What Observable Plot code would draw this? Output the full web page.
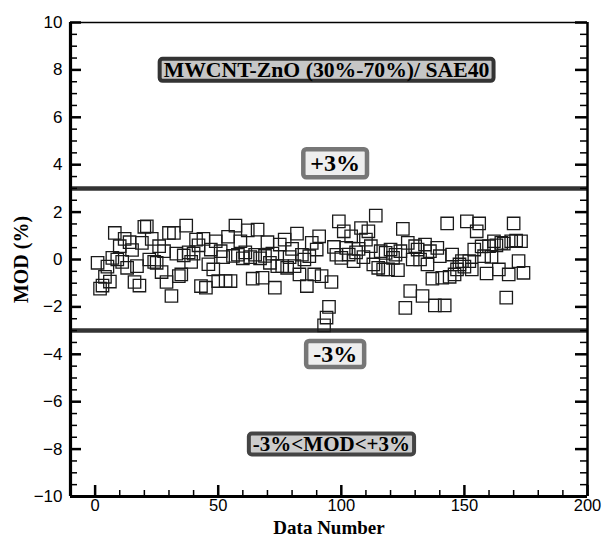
<!DOCTYPE html>
<html><head><meta charset="utf-8">
<script src="https://cdn.jsdelivr.net/npm/d3@7"></script>
<script src="https://cdn.jsdelivr.net/npm/@observablehq/plot@0.6"></script>
<style>
body{margin:0;background:#fff}
</style>
</head><body><div id="chart"></div>
<script>
const dataNumber = [1,2,3,4,5,6,7,8,9,10,11,12,13,14,15,16,17,18,19,20,21,22,23,24,25,26,27,28,29,30,
31,32,33,34,35,36,37,38,39,40,41,42,43,44,45,46,47,48,49,50,51,52,53,54,55,56,57,58,59,60,
61,62,63,64,65,66,67,68,69,70,71,72,73,74,75,76,77,78,79,80,81,82,83,84,85,86,87,88,89,90,
91,92,93,94,95,96,97,98,99,100,101,102,103,104,105,106,107,108,109,110,111,112,113,114,115,116,117,118,119,120,
121,122,123,124,125,126,127,128,129,130,131,132,133,134,135,136,137,138,139,140,141,142,143,144,145,146,147,148,149,150,
151,152,153,154,155,156,157,158,159,160,161,162,163,164,165,166,167,168,169,170,171,172,173,174];
const modValues = [-0.14,-1.23,-1.1,-0.73,-0.3,-0.93,0.07,1.12,0,0.56,-0.1,0.87,-0.35,0.73,0.4,-0.95,-0.28,-1.1,0.7,1.38,
1.4,0,0.87,-0.1,-0.14,0.56,-0.53,0.35,-0.95,1.12,-1.54,1.12,0.25,-0.7,-0.63,0.17,1.43,0.3,-0.1,0.25,
0.84,0.6,-1.12,0.87,-1.19,-0.2,0.42,-0.42,0.77,-0.91,0.35,0.1,-0.91,0.96,-0.91,0.15,1.43,0.2,0.77,0.05,
0.3,1.23,0.1,-0.81,0.2,1.26,0.05,-0.77,0.15,0.73,-0.14,0.25,-1.19,-0.28,0.63,-0.28,0.84,-0.35,0.1,0.45,
-0.28,1.09,-0.63,0.2,0,-1.12,0.14,0.7,-0.63,0.42,0.98,-0.7,-2.78,-2.45,-2.0,-0.95,0.53,0.2,1.61,0.07,
1.19,0.49,0.21,0.98,-0.07,0.3,0.45,1.33,0.1,0.84,1.19,0.56,-0.21,1.85,-0.35,0.35,-0.42,0.28,-0.42,0.42,
0.07,0.2,-0.45,0.35,1.29,-2.04,0.7,-1.33,0,0.56,0.42,0,-1.54,0.63,-0.21,0.35,-0.81,-1.94,0.49,0.14,
-0.77,-1.94,1.52,-0.73,0.21,-0.63,-0.42,-0.21,-0.07,-0.3,1.61,-0.07,-0.42,0.42,1.19,1.52,0.55,0.14,-0.59,0.56,
0.11,0.77,0.6,-0.42,0.7,0.67,-1.61,-0.63,0.77,1.52,0.8,-0.07,0.77,-0.56];
const limits = [3, -3];
const xTicks = [0, 50, 100, 150, 200];
const yTicks = [-10, -8, -6, -4, -2, 0, 2, 4, 6, 8, 10];
const xMinorTicks = [-10, 10, 20, 30, 40, 60, 70, 80, 90, 110, 120, 130, 140, 160, 170, 180, 190];
const yMinorTicks = [-9.5, -9, -8.5, -7.5, -7, -6.5, -5.5, -5, -4.5, -3.5, -3, -2.5, -1.5, -1, -0.5,
  0.5, 1, 1.5, 2.5, 3, 3.5, 4.5, 5, 5.5, 6.5, 7, 7.5, 8.5, 9, 9.5];
const xDomain = [-10, 200];
const yDomain = [-10, 10];
const titleText = "MWCNT-ZnO (30%-70%)/ SAE40";
const plusLabel = "+3%";
const minusLabel = "-3%";
const rangeLabel = "-3%<MOD<+3%";

const points = dataNumber.map((n, i) => ({n, mod: modValues[i]}));

const W = 604, H = 537, mL = 70, mR = 17, mT = 22, mB = 41;
const innerH = H - mT - mB, innerW = W - mL - mR;
const serif = "'Liberation Serif','Times New Roman',serif";
const sans = "'Liberation Sans',Arial,sans-serif";

const chart = Plot.plot({
  width: W, height: H,
  marginLeft: mL, marginRight: mR, marginTop: mT, marginBottom: mB,
  x: {domain: xDomain},
  y: {domain: yDomain},
  style: {fontSize: "17px", fontFamily: sans, color: "black", background: "white"},
  marks: [
    Plot.ruleY(limits, {stroke: "#333", strokeWidth: 4.5}),
    Plot.dot(points, {x: "n", y: "mod", symbol: "square", r: 7, stroke: "#1a1a1a", strokeWidth: 1.3, fill: "none"}),
    // inward ticks: bottom, left, right
    Plot.tickX(xTicks, {x: d => d, insetTop: innerH - 11, stroke: "black", strokeWidth: 2.5}),
    Plot.tickX(xMinorTicks, {x: d => d, insetTop: innerH - 6, stroke: "black", strokeWidth: 1.5}),
    Plot.tickY(yTicks, {y: d => d, insetRight: innerW - 11, stroke: "black", strokeWidth: 2.5}),
    Plot.tickY(yMinorTicks, {y: d => d, insetRight: innerW - 7, stroke: "black", strokeWidth: 1.5}),
    Plot.tickY(yTicks, {y: d => d, insetLeft: innerW - 12, stroke: "black", strokeWidth: 2.5}),
    Plot.tickY(yMinorTicks, {y: d => d, insetLeft: innerW - 7, stroke: "black", strokeWidth: 1.5}),
    Plot.axisX({ticks: xTicks, tickSize: 0, tickPadding: 3, label: "Data Number", labelAnchor: "center", labelOffset: 37, labelArrow: "none", fontSize: 16.5}),
    Plot.axisY({ticks: yTicks, tickSize: 0, tickPadding: 8, label: "MOD (%)", labelAnchor: "center", labelOffset: 57, labelArrow: "none", fontSize: 17}),
    // frame edges (thick left/bottom, thinner right/top)
    Plot.ruleX([xDomain[0]], {stroke: "black", strokeWidth: 3.2}),
    Plot.ruleY([yDomain[0]], {stroke: "black", strokeWidth: 3.2}),
    Plot.ruleX([xDomain[1]], {stroke: "black", strokeWidth: 2.5}),
    Plot.ruleY([yDomain[1]], {stroke: "black", strokeWidth: 1.6}),
    Plot.text([titleText], {x: 94, y: 8, text: d => d, fontFamily: serif, fontWeight: "bold", fontSize: 21.7, fill: "black"}),
    Plot.text([plusLabel], {x: 97.5, y: 4.05, text: d => d, fontFamily: serif, fontWeight: "bold", fontSize: 24, fill: "black"}),
    Plot.text([minusLabel], {x: 97.5, y: -4.0, text: d => d, fontFamily: serif, fontWeight: "bold", fontSize: 24, fill: "black"}),
    Plot.text([rangeLabel], {x: 96, y: -7.8, text: d => d, fontFamily: serif, fontWeight: "bold", fontSize: 21, fill: "black"})
  ]
});
document.getElementById("chart").appendChild(chart);

// axis label styling (bold serif)
for (const g of chart.querySelectorAll('g[aria-label="x-axis label"], g[aria-label="y-axis label"]')) {
  const fs = g.getAttribute("aria-label").startsWith("x") ? 19 : 20;
  g.setAttribute("font-family", serif);
  g.setAttribute("font-weight", "bold");
  g.setAttribute("font-size", fs);
  g.querySelectorAll("text").forEach(t => { t.style.fontFamily = serif; t.style.fontWeight = "bold"; t.style.fontSize = fs + "px"; });
}

// boxes behind annotation texts
const boxStyles = new Map([
  [titleText, {fill: "#c6c6c6", stroke: "#333", sw: 4, px: 4, py: -1}],
  [plusLabel, {fill: "#eeeeee", stroke: "#777", sw: 4.5, px: 7, py: 1}],
  [minusLabel, {fill: "#eeeeee", stroke: "#777", sw: 4.5, px: 7, py: 0}],
  [rangeLabel, {fill: "#cccccc", stroke: "#444", sw: 4, px: 4, py: -1.5}]
]);
chart.querySelectorAll("text").forEach(t => {
  const s = boxStyles.get(t.textContent);
  if (!s || t.closest('g[aria-label^="y-axis"], g[aria-label^="x-axis"]')) return;
  const b = t.getBBox();
  const r = document.createElementNS("http://www.w3.org/2000/svg", "rect");
  r.setAttribute("x", b.x - s.px);
  r.setAttribute("y", b.y - s.py);
  r.setAttribute("width", b.width + 2 * s.px);
  r.setAttribute("height", b.height + 2 * s.py);
  r.setAttribute("rx", 3);
  r.setAttribute("fill", s.fill);
  r.setAttribute("stroke", s.stroke);
  r.setAttribute("stroke-width", s.sw);
  if (t.getAttribute("transform")) r.setAttribute("transform", t.getAttribute("transform"));
  t.parentNode.insertBefore(r, t);
});
</script>
</body></html>
